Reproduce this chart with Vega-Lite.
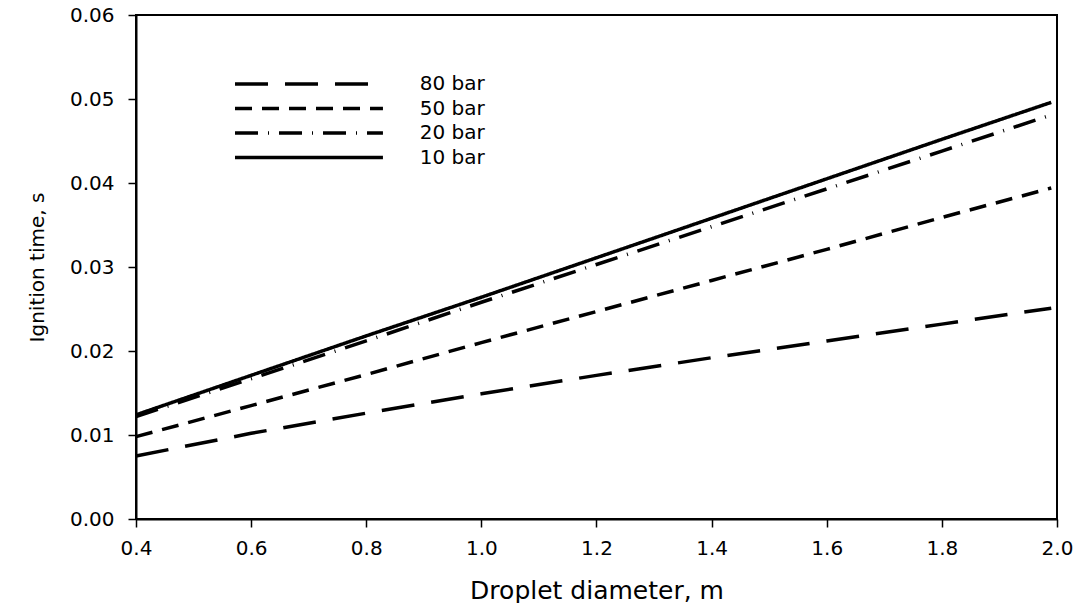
{
  "$schema": "https://vega.github.io/schema/vega-lite/v6.json",
  "width": 921,
  "height": 504,
  "autosize": {"type": "none"},
  "padding": {"left": 136, "top": 15, "right": 21, "bottom": 84},
  "background": "white",
  "config": {
    "view": {"stroke": "black", "strokeWidth": 2},
    "font": "DejaVu Sans",
    "axis": {
      "grid": false,
      "domainColor": "black",
      "domainWidth": 2,
      "tickColor": "black",
      "tickWidth": 1.5,
      "tickSize": 8,
      "labelColor": "black",
      "labelFont": "DejaVu Sans",
      "labelFontSize": 20,
      "labelFlush": false,
      "labelOverlap": false,
      "labelBound": false,
      "titleFont": "DejaVu Sans",
      "titleFontWeight": "normal",
      "titleColor": "black"
    }
  },
  "datasets": {
    "curves": [
      {"series": "10 bar", "diameter": 0.4, "time": 0.0124},
      {"series": "10 bar", "diameter": 0.6, "time": 0.0171},
      {"series": "10 bar", "diameter": 0.8, "time": 0.0218},
      {"series": "10 bar", "diameter": 1.0, "time": 0.0264},
      {"series": "10 bar", "diameter": 1.2, "time": 0.0311},
      {"series": "10 bar", "diameter": 1.4, "time": 0.0358},
      {"series": "10 bar", "diameter": 1.6, "time": 0.0405},
      {"series": "10 bar", "diameter": 1.8, "time": 0.0452},
      {"series": "10 bar", "diameter": 1.99, "time": 0.0496},
      {"series": "20 bar", "diameter": 0.4, "time": 0.0122},
      {"series": "20 bar", "diameter": 0.6, "time": 0.0167},
      {"series": "20 bar", "diameter": 0.8, "time": 0.0212},
      {"series": "20 bar", "diameter": 1.0, "time": 0.0258},
      {"series": "20 bar", "diameter": 1.2, "time": 0.0303},
      {"series": "20 bar", "diameter": 1.4, "time": 0.0348},
      {"series": "20 bar", "diameter": 1.6, "time": 0.0393},
      {"series": "20 bar", "diameter": 1.8, "time": 0.0438},
      {"series": "20 bar", "diameter": 1.99, "time": 0.0481},
      {"series": "50 bar", "diameter": 0.4, "time": 0.0098},
      {"series": "50 bar", "diameter": 0.6, "time": 0.0135},
      {"series": "50 bar", "diameter": 0.8, "time": 0.0172},
      {"series": "50 bar", "diameter": 1.0, "time": 0.0210},
      {"series": "50 bar", "diameter": 1.2, "time": 0.0247},
      {"series": "50 bar", "diameter": 1.4, "time": 0.0284},
      {"series": "50 bar", "diameter": 1.6, "time": 0.0321},
      {"series": "50 bar", "diameter": 1.8, "time": 0.0359},
      {"series": "50 bar", "diameter": 1.99, "time": 0.0394},
      {"series": "80 bar", "diameter": 0.4, "time": 0.0075},
      {"series": "80 bar", "diameter": 0.6, "time": 0.0102},
      {"series": "80 bar", "diameter": 0.8, "time": 0.0126},
      {"series": "80 bar", "diameter": 1.0, "time": 0.0149},
      {"series": "80 bar", "diameter": 1.2, "time": 0.0171},
      {"series": "80 bar", "diameter": 1.4, "time": 0.0192},
      {"series": "80 bar", "diameter": 1.6, "time": 0.0212},
      {"series": "80 bar", "diameter": 1.8, "time": 0.0232},
      {"series": "80 bar", "diameter": 1.99, "time": 0.0251}
    ],
    "legendRows": [
      {"series": "80 bar"},
      {"series": "50 bar"},
      {"series": "20 bar"},
      {"series": "10 bar"}
    ]
  },
  "layer": [
    {
      "data": {"name": "curves"},
      "mark": {"type": "line", "strokeWidth": 3.5, "color": "black"},
      "encoding": {
        "x": {
          "field": "diameter",
          "type": "quantitative",
          "scale": {"domain": [0.4, 2.0], "nice": false, "zero": false},
          "axis": {
            "title": "Droplet diameter, m",
            "values": [0.4, 0.6, 0.8, 1.0, 1.2, 1.4, 1.6, 1.8, 2.0],
            "format": ".1f",
            "labelPadding": 11,
            "titleFontSize": 25,
            "titlePadding": 20
          }
        },
        "y": {
          "field": "time",
          "type": "quantitative",
          "scale": {"domain": [0, 0.06], "nice": false},
          "axis": {
            "title": "Ignition time, s",
            "values": [0, 0.01, 0.02, 0.03, 0.04, 0.05, 0.06],
            "format": ".2f",
            "labelPadding": 14,
            "titleFontSize": 20,
            "titlePadding": 22
          }
        },
        "strokeDash": {
          "field": "series",
          "type": "nominal",
          "scale": {
            "domain": ["80 bar", "50 bar", "20 bar", "10 bar"],
            "range": [[33, 17], [17, 10], [23, 10, 1, 10], [1, 0]]
          },
          "legend": null
        }
      }
    },
    {
      "data": {"name": "legendRows"},
      "layer": [
        {
          "mark": {"type": "rule", "strokeWidth": 3.5, "color": "black"},
          "encoding": {
            "x": {"datum": 0.572, "type": "quantitative"},
            "x2": {"datum": 0.829},
            "y": {
              "field": "series",
              "type": "nominal",
              "scale": {"type": "point", "domain": ["80 bar", "50 bar", "20 bar", "10 bar"], "range": [69, 142.5], "padding": 0},
              "axis": null
            },
            "strokeDash": {"field": "series", "type": "nominal", "legend": null}
          }
        },
        {
          "mark": {"type": "text", "align": "left", "baseline": "middle", "fontSize": 20, "font": "DejaVu Sans", "color": "black"},
          "encoding": {
            "x": {"datum": 0.893, "type": "quantitative"},
            "y": {
              "field": "series",
              "type": "nominal",
              "scale": {"type": "point", "domain": ["80 bar", "50 bar", "20 bar", "10 bar"], "range": [69, 142.5], "padding": 0},
              "axis": null
            },
            "text": {"field": "series"}
          }
        }
      ]
    }
  ],
  "resolve": {"scale": {"y": "independent"}}
}
